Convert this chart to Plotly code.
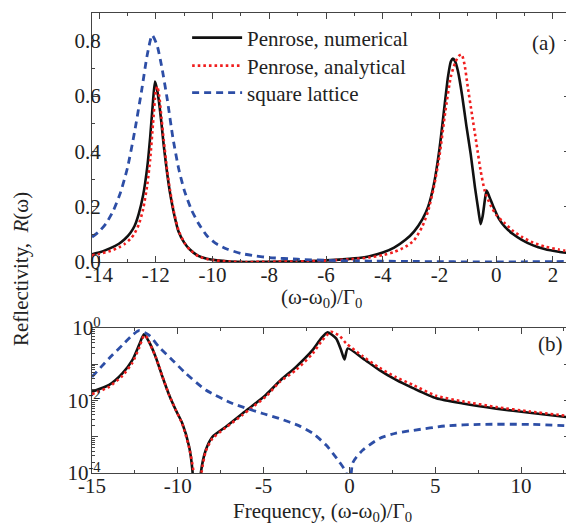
import plotly.graph_objects as go

# ---------------- data: panel (a), linear scale ----------------
a_num_x = [-14.25, -14.0, -13.6, -13.3, -13.1, -12.9, -12.75, -12.6, -12.45, -12.3, -12.2, -12.1,
           -12.03, -11.97, -11.89, -11.8, -11.72, -11.6, -11.5, -11.35, -11.2, -11.0, -10.8,
           -10.5, -10.2, -9.85, -9.4, -8.8, -8.0, -7.0, -6.0, -5.0, -4.5, -4.0, -3.6, -3.2,
           -2.9, -2.6, -2.4, -2.2, -2.0, -1.85, -1.7, -1.6, -1.53, -1.45, -1.35, -1.2, -1.05,
           -0.9, -0.75, -0.62, -0.55, -0.48, -0.4, -0.34, -0.25, -0.1, 0.1, 0.3, 0.6, 0.9,
           1.3, 1.7, 2.2, 2.64]
a_num_y = [0.028, 0.034, 0.05, 0.066, 0.082, 0.105, 0.13, 0.175, 0.24, 0.345, 0.45, 0.58,
           0.652, 0.63, 0.58, 0.5, 0.42, 0.32, 0.25, 0.17, 0.11, 0.07, 0.045,
           0.022, 0.012, 0.006, 0.002, 0.0, 0.001, 0.002, 0.006, 0.013, 0.02, 0.034, 0.052, 0.08,
           0.11, 0.155, 0.2, 0.28, 0.41, 0.54, 0.67, 0.725, 0.735, 0.725, 0.69, 0.6, 0.49,
           0.39, 0.27, 0.18, 0.137, 0.165, 0.225, 0.258, 0.238, 0.2, 0.155, 0.128, 0.1, 0.08,
           0.06, 0.047, 0.037, 0.031]

a_ana_x = [-14.25, -14.0, -13.6, -13.3, -13.1, -12.9, -12.75, -12.6, -12.45, -12.3, -12.2, -12.1,
           -12.0, -11.95, -11.88, -11.8, -11.72, -11.6, -11.5, -11.35, -11.2, -11.0, -10.8,
           -10.5, -10.2, -9.85, -9.4, -8.8, -8.0, -7.0, -6.0, -5.0, -4.5, -4.0, -3.6, -3.2,
           -2.9, -2.6, -2.4, -2.2, -2.0, -1.8, -1.6, -1.45, -1.32, -1.22, -1.12, -1.0, -0.85,
           -0.7, -0.55, -0.4, -0.2, 0.0, 0.3, 0.6, 0.9, 1.3, 1.7, 2.2, 2.64]
a_ana_y = [0.024, 0.029, 0.04, 0.053, 0.065, 0.083, 0.103, 0.135, 0.19, 0.28, 0.37, 0.5,
           0.62, 0.635, 0.6, 0.52, 0.44, 0.33, 0.26, 0.175, 0.115, 0.07, 0.044,
           0.021, 0.011, 0.005, 0.0015, 0.0, 0.001, 0.002, 0.005, 0.011, 0.016, 0.025, 0.036, 0.055,
           0.078, 0.13, 0.185, 0.27, 0.385, 0.54, 0.67, 0.72, 0.745, 0.75, 0.715, 0.63, 0.53,
           0.43, 0.33, 0.255, 0.205, 0.17, 0.14, 0.112, 0.091, 0.07, 0.056, 0.045, 0.037]

a_sq_x = [-14.25, -14.0, -13.75, -13.5, -13.25, -13.0, -12.75, -12.5, -12.3, -12.13, -11.96,
          -11.8, -11.6, -11.4, -11.2, -11.0, -10.75, -10.5, -10.2, -9.9, -9.5, -9.0, -8.5,
          -8.0, -7.0, -6.0, -5.0, -4.0, -3.0, -2.0, -1.0, 0.0, 1.0, 2.0, 2.64]
a_sq_y = [0.09, 0.11, 0.14, 0.185, 0.25, 0.34, 0.47, 0.62, 0.75, 0.82, 0.785,
          0.71, 0.59, 0.45, 0.34, 0.26, 0.19, 0.14, 0.095, 0.068, 0.047, 0.031, 0.022,
          0.016, 0.01, 0.006, 0.004, 0.003, 0.002, 0.0012, 0.0005, 0.0, 0.0008, 0.0015, 0.002]

# ---------------- data: panel (b), log scale ----------------
b_num_x = [-15.0, -14.0, -13.23, -12.65, -12.26, -11.97, -11.68, -11.29, -10.9, -10.5, -10.12,
           -9.73, -9.34, -9.15, -8.9, -8.66, -8.37, -7.98, -7.2, -6.23, -5.84, -4.86, -4.0,
           -3.11, -2.14, -1.65, -1.27, -0.78, -0.49, -0.29, -0.1, 0.78, 1.75, 2.72, 3.7, 5.06,
           6.61, 8.56, 10.5, 12.85]
b_num_y = [0.0175, 0.027, 0.056, 0.13, 0.34, 0.67, 0.42, 0.16, 0.046, 0.014, 0.0055,
           0.0023, 5.3e-4, 1.2e-4, 1e-6, 1e-4, 4.3e-4, 1e-3, 1.9e-3, 4.4e-3, 6.1e-3, 0.0145, 0.037,
           0.085, 0.25, 0.52, 0.76, 0.52, 0.25, 0.137, 0.275, 0.146, 0.069, 0.037, 0.022, 0.0115,
           0.0083, 0.006, 0.0046, 0.0034]

b_ana_x = [-15.0, -14.0, -13.23, -12.65, -12.26, -11.97, -11.85, -11.68, -11.29, -10.9, -10.5,
           -10.12, -9.73, -9.34, -9.1, -8.88, -8.62, -8.37, -7.98, -7.2, -6.23, -5.84, -4.86,
           -4.09, -3.11, -2.14, -1.65, -1.07, -0.6, -0.19, 0.78, 1.75, 2.72, 3.7, 5.06, 6.61,
           8.56, 10.5, 12.85]
b_ana_y = [0.015, 0.024, 0.048, 0.11, 0.28, 0.62, 0.6, 0.42, 0.16, 0.046, 0.014,
           0.0055, 0.0022, 5e-4, 1.2e-4, 1e-6, 1e-4, 4e-4, 9e-4, 1.8e-3, 4e-3, 5.6e-3, 0.013,
           0.032, 0.07, 0.2, 0.42, 0.79, 0.62, 0.38, 0.166, 0.08, 0.044, 0.027, 0.0135, 0.0095,
           0.0066, 0.005, 0.0037]

b_sq_x = [-15.0, -14.01, -13.23, -12.65, -12.26, -11.68, -11.09, -10.31, -9.53, -8.37, -6.81,
          -5.06, -4.09, -2.92, -2.14, -1.36, -0.58, -0.19, 0.0, 0.19, 0.78, 1.75, 2.72, 3.7,
          5.64, 7.59, 10.5, 12.85]
b_sq_y = [0.045, 0.145, 0.34, 0.64, 0.85, 0.64, 0.30, 0.13, 0.056, 0.0195, 0.0083,
          0.0044, 0.0032, 0.002, 0.00125, 5.9e-4, 2e-4, 1e-4, 1e-6, 1.9e-4, 4.3e-4, 9e-4, 1.26e-3, 1.5e-3,
          2e-3, 2.2e-3, 2.2e-3, 2.0e-3]

# ---------------- tick labels ----------------
a_xtick_vals = [-14, -12, -10, -8, -6, -4, -2, 0, 2]
a_xtick_text = ["-14", "-12", "-10", "-8", "-6", "-4", "-2", "0", "2"]
a_ytick_vals = [0.0, 0.2, 0.4, 0.6, 0.8]
a_ytick_text = ["0.0", "0.2", "0.4", "0.6", "0.8"]
b_xtick_vals = [-15, -10, -5, 0, 5, 10]
b_xtick_text = ["-15", "-10", "-5", "0", "5", "10"]
b_ytick_vals = [1, 0.1, 0.01, 0.001, 0.0001]
b_ytick_text = ["10<sup>0</sup>", "", "10<sup>-2</sup>", "", "10<sup>-4</sup>"]
b_yminor_vals = [k * 10.0 ** e for e in (-4, -3, -2, -1) for k in range(2, 10)]

names = ["Penrose, numerical", "Penrose, analytical", "square lattice"]

BLACK = "#111111"
RED = "#f01e1e"
BLUE = "#2d4ea6"
FONT = "Liberation Serif"
TXT = "#222222"

fig = go.Figure()
line_num = dict(color=BLACK, width=2.6, shape="spline", smoothing=0.6)
line_ana = dict(color=RED, width=2.6, dash="2.6px,3px", shape="spline", smoothing=0.6)
line_sq = dict(color=BLUE, width=2.8, dash="7px,5px", shape="spline", smoothing=0.6)

fig.add_trace(go.Scatter(x=a_num_x, y=a_num_y, mode="lines", name=names[0], line=line_num,
                         xaxis="x", yaxis="y", legend="legend"))
fig.add_trace(go.Scatter(x=a_ana_x, y=a_ana_y, mode="lines", name=names[1], line=line_ana,
                         xaxis="x", yaxis="y", legend="legend2"))
fig.add_trace(go.Scatter(x=a_sq_x, y=a_sq_y, mode="lines", name=names[2], line=line_sq,
                         xaxis="x", yaxis="y", legend="legend3"))
fig.add_trace(go.Scatter(x=b_num_x, y=b_num_y, mode="lines", showlegend=False, line=line_num,
                         xaxis="x2", yaxis="y2"))
fig.add_trace(go.Scatter(x=b_ana_x, y=b_ana_y, mode="lines", showlegend=False, line=line_ana,
                         xaxis="x2", yaxis="y2"))
fig.add_trace(go.Scatter(x=b_sq_x, y=b_sq_y, mode="lines", showlegend=False, line=line_sq,
                         xaxis="x2", yaxis="y2"))

axis_common = dict(showline=True, linecolor="#444444", linewidth=1.2, mirror="allticks",
                   ticks="inside", ticklen=6, tickcolor="#444444", tickwidth=1,
                   showgrid=False, zeroline=False, automargin=False,
                   tickfont=dict(family=FONT, size=21, color=TXT))

legend_common = dict(xanchor="left", yanchor="middle", bgcolor="rgba(0,0,0,0)",
                     font=dict(family=FONT, size=21, color=TXT), itemwidth=50)

fig.update_layout(
    width=566, height=520,
    margin=dict(l=84, r=4, t=5, b=55, autoexpand=False),
    paper_bgcolor="white", plot_bgcolor="white",
    font=dict(family=FONT, size=21, color=TXT),
    showlegend=True,
    legend=dict(x=0.199, y=0.9457, **legend_common),
    legend2=dict(x=0.199, y=0.8848, **legend_common),
    legend3=dict(x=0.199, y=0.8261, **legend_common),
    xaxis=dict(domain=[0, 1], anchor="y", range=[-14.25, 2.6], tickmode="array",
               tickvals=a_xtick_vals, ticktext=a_xtick_text, ticklabelstandoff=-6,
               minor=dict(ticks="inside", ticklen=3, dtick=1, tick0=0, tickcolor="#444444"),
               **axis_common),
    yaxis=dict(domain=[0.4587, 1], anchor="x", range=[0, 0.9], tickmode="array",
               tickvals=a_ytick_vals, ticktext=a_ytick_text, ticklabelstandoff=-14,
               minor=dict(ticks="inside", ticklen=3, dtick=0.1, tick0=0, tickcolor="#444444"),
               **axis_common),
    xaxis2=dict(domain=[0, 1], anchor="y2", range=[-15, 12.85], tickmode="array",
                tickvals=b_xtick_vals, ticktext=b_xtick_text, ticklabelstandoff=-6,
                minor=dict(ticks="inside", ticklen=3, dtick=2.5, tick0=0, tickcolor="#444444"),
                **axis_common),
    yaxis2=dict(domain=[0, 0.315], anchor="x2", type="log", range=[-4, 0], tickmode="array",
                tickvals=b_ytick_vals, ticktext=b_ytick_text, ticklabelstandoff=-14,
                minor=dict(ticks="inside", ticklen=3, tickmode="array", tickvals=b_yminor_vals,
                           tickcolor="#444444"),
                **axis_common),
    annotations=[
        dict(text="Reflectivity,  <i>R</i>(ω)", xref="paper", yref="paper", x=-0.1485, y=0.4435,
             xanchor="center", yanchor="middle", textangle=-90, showarrow=False,
             font=dict(family=FONT, size=21, color=TXT)),
        dict(text="(ω-ω<sub>0</sub>)/Γ<sub>0</sub>", xref="paper", yref="paper", x=0.481,
             y=0.380, xanchor="center", yanchor="middle", showarrow=False,
             font=dict(family=FONT, size=21, color=TXT)),
        dict(text="Frequency, (ω-ω<sub>0</sub>)/Γ<sub>0</sub>", xref="paper", yref="paper",
             x=0.482, y=-0.085, xanchor="center", yanchor="middle", showarrow=False,
             font=dict(family=FONT, size=21, color=TXT)),
        dict(text="(a)", xref="paper", yref="paper", x=0.9456, y=0.9348,
             xanchor="center", yanchor="middle", showarrow=False,
             font=dict(family=FONT, size=21, color=TXT)),
        dict(text="(b)", xref="paper", yref="paper", x=0.960, y=0.2804,
             xanchor="center", yanchor="middle", showarrow=False,
             font=dict(family=FONT, size=21, color=TXT)),
    ],
)

fig.write_html("out.html")
